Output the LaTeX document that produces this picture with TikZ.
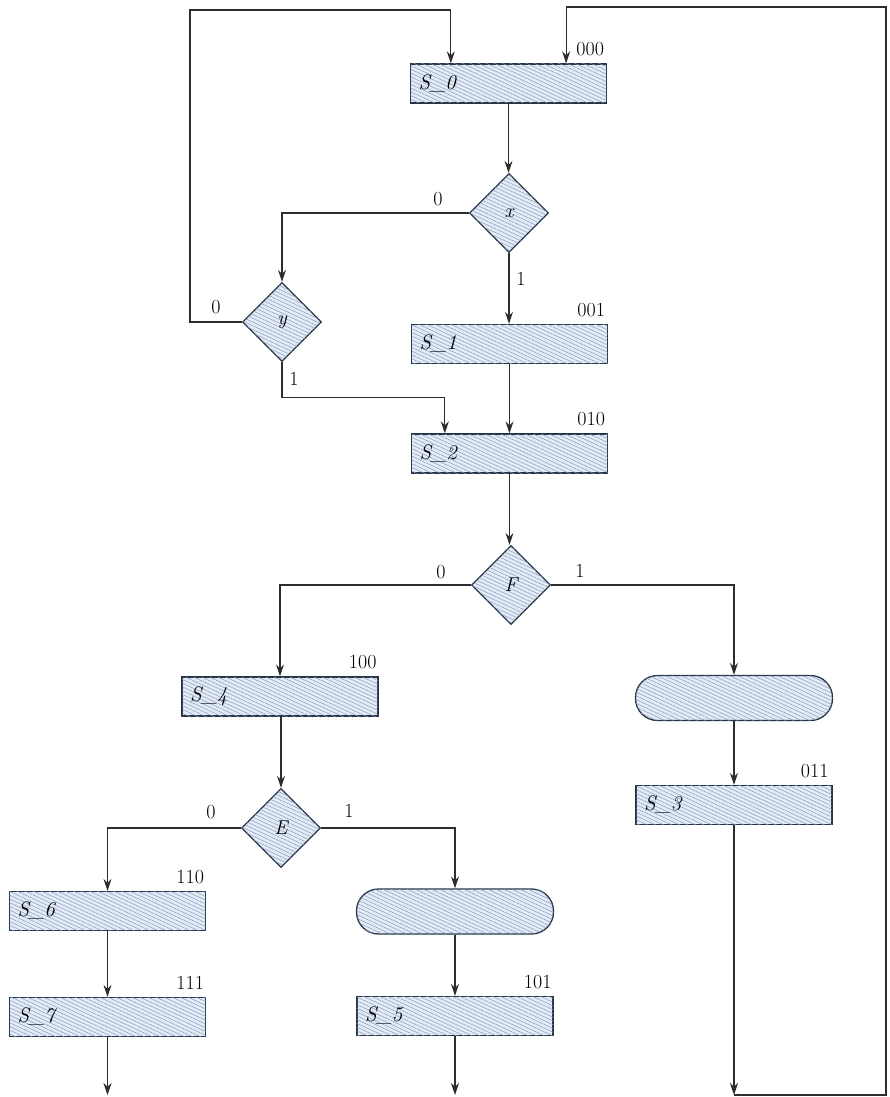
\documentclass[tikz,border=0pt]{standalone}
\usepackage{tikz}
\usetikzlibrary{arrows.meta,shapes.geometric,patterns.meta,calc}
\definecolor{boxfill}{RGB}{226,235,246}
\definecolor{hatch}{RGB}{135,155,185}
\definecolor{edge}{RGB}{38,52,70}
\definecolor{wire}{RGB}{45,45,45}
\begin{document}
\begin{tikzpicture}[x=1pt,y=-1pt,
  shaded/.style={draw=edge, line width=1.3pt, fill=boxfill,
    postaction={pattern={Lines[angle=-25,distance=3.4pt,line width=0.5pt]}, pattern color=hatch}},
  statebox/.style={shaded, rectangle, minimum height=39pt, text width=180pt, inner xsep=8pt, inner ysep=0pt, align=left,
    font=\fontsize{21}{24}\selectfont\itshape},
  condbox/.style={shaded, rectangle, rounded corners=22pt, minimum width=197pt, minimum height=45pt},
  decide/.style={shaded, diamond, aspect=1, minimum size=79pt, inner sep=0pt, font=\fontsize{20}{24}\selectfont\itshape},
  code/.style={anchor=south east, inner sep=1pt, yshift=6pt, font=\fontsize{20}{24}\selectfont},
  lbl/.style={inner sep=0pt, font=\fontsize{20}{24}\selectfont},
  wirestyle/.style={draw=wire, line width=1.2pt},
  arr/.style={wirestyle, -{Stealth[length=12pt,width=8pt]}}
]
\useasboundingbox (0,0) rectangle (889,1097);

% states
\node[statebox] (S0) at (508.5,83.5) {S\_0};
\node[decide] (X) at (509,213) {x};
\node[decide] (Y) at (282,322) {y};
\node[statebox] (S1) at (509.5,344) {S\_1};
\node[statebox] (S2) at (509.5,453.5) {S\_2};
\node[decide] (F) at (511,585) {F};
\node[statebox] (S4) at (280,696.5) {S\_4};
\node[condbox] (R1) at (734,698) {};
\node[statebox] (S3) at (734,805) {S\_3};
\node[decide] (E) at (281,828) {E};
\node[statebox] (S6) at (107.5,911) {S\_6};
\node[statebox] (S7) at (107.5,1017) {S\_7};
\node[condbox] (R2) at (455,911.5) {};
\node[statebox] (S5) at (455,1016) {S\_5};

% state codes
\node[code] (c0) at ([xshift=-2pt]S0.north east) {000};
\node[code] (c1) at ([xshift=-2pt]S1.north east) {001};
\node[code] (c2) at ([xshift=-2pt]S2.north east) {010};
\node[code] (c4) at ([xshift=-1pt]S4.north east) {100};
\node[code] (c3) at ([xshift=-3pt]S3.north east) {011};
\node[code] (c6) at ([xshift=-1pt]S6.north east) {110};
\node[code] (c7) at ([xshift=-1pt]S7.north east) {111};
\node[code] (c5) at ([xshift=-1pt]S5.north east) {101};

% branch labels
\node[lbl] (lx0) at (438,199) {0};
\node[lbl] (lx1) at (521,279) {1};
\node[lbl] (ly0) at (216,307) {0};
\node[lbl] (ly1) at (294,379) {1};
\node[lbl] (lf0) at (441,572) {0};
\node[lbl] (lf1) at (580,571) {1};
\node[lbl] (le0) at (211,812) {0};
\node[lbl] (le1) at (349,811) {1};

% coordinates for free ends / corners
\coordinate (lt) at (190,10);
\coordinate (rt) at (886,7);
\coordinate (br) at (886,1095);
\coordinate (b7) at (107.5,1095);
\coordinate (b5) at (455,1095);

% connectors
\draw[arr] (S0.south) -- (S0.south |- X.north);
\draw[arr] (X.west) -| (Y.north);
\draw[arr] (X.south) -- (X.south |- S1.north);
\draw[arr] (Y.west) -| (lt) -| ([xshift=41pt]S0.north west);
\draw[arr] (Y.south) -- ++(0,35) -| ([xshift=34pt]S2.north west);
\draw[arr] (S1.south) -- (S2.north);
\draw[arr] (S2.south) -- (S2.south |- F.north);
\draw[arr] (F.west) -| (S4.north);
\draw[arr] (F.east) -| (R1.north);
\draw[arr] (R1.south) -- (S3.north);
\draw[arr] (S3.south) -- (S3.south |- br);
\draw[arr] (S3.south |- br) -- (br) -- (rt) -| ([xshift=-41pt]S0.north east);
\draw[arr] (S4.south) -- (S4.south -| E.north) -- (E.north);
\draw[arr] (E.west) -| (S6.north);
\draw[arr] (E.east) -| (R2.north);
\draw[arr] (R2.south) -- (S5.north);
\draw[arr] (S6.south) -- (S7.north);
\draw[arr] (S7.south) -- (b7);
\draw[arr] (S5.south) -- (b5);
\end{tikzpicture}
\end{document}
